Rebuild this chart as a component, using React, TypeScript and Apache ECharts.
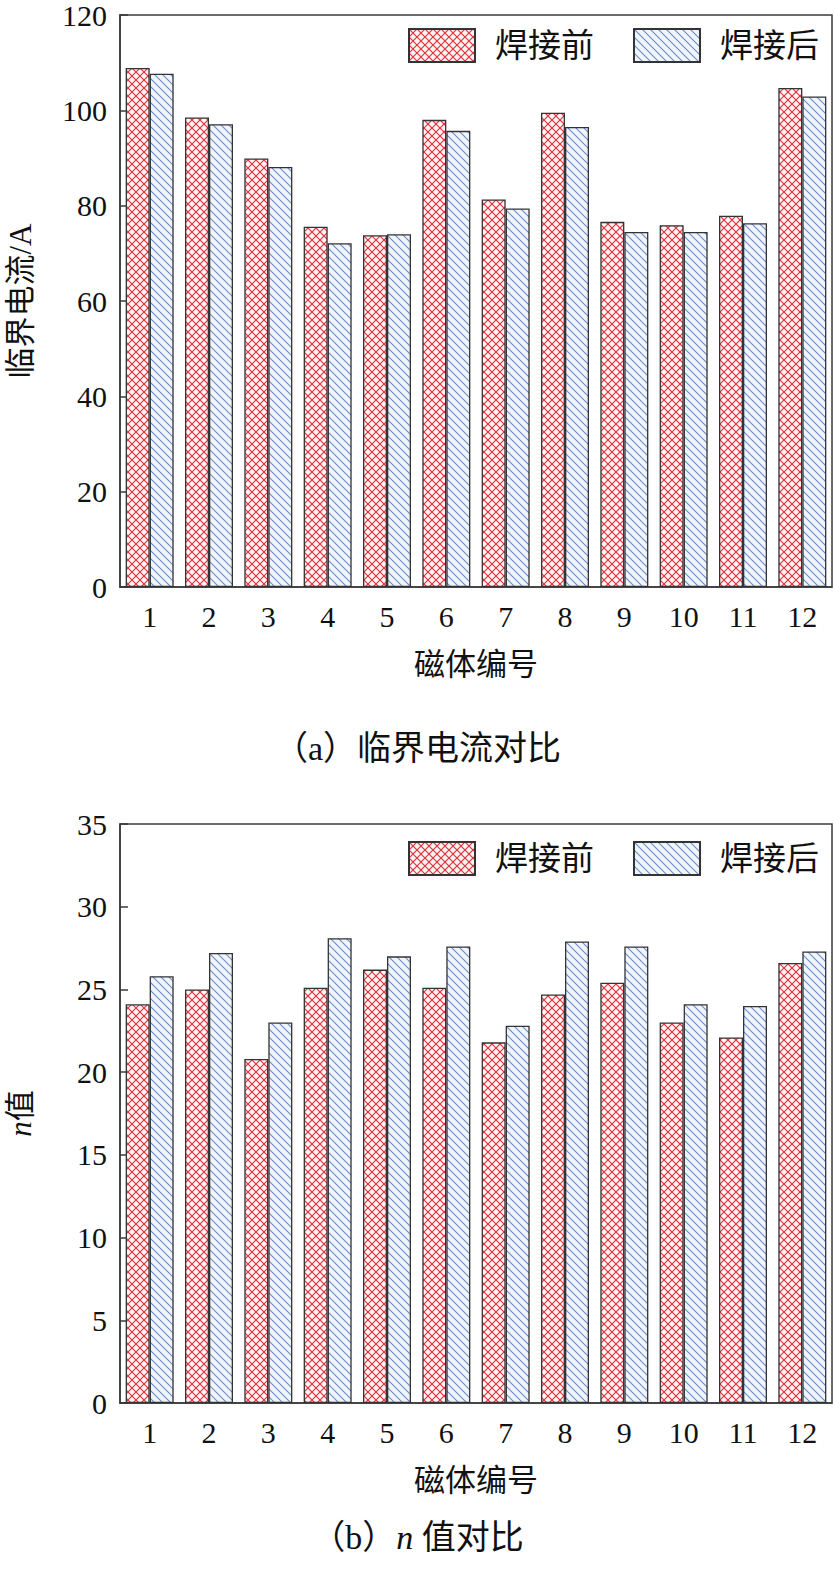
import React, { useEffect, useRef } from 'react';
import * as echarts from 'echarts';

// 磁体编号
const magnets = ['1', '2', '3', '4', '5', '6', '7', '8', '9', '10', '11', '12'];
const legendNames = ['焊接前', '焊接后'];
// 临界电流 / A
const currentBefore = [108.9, 98.5, 89.9, 75.6, 73.8, 98.0, 81.3, 99.5, 76.6, 75.9, 77.9, 104.7];
const currentAfter = [107.7, 97.1, 88.1, 72.1, 74.0, 95.7, 79.4, 96.5, 74.5, 74.5, 76.3, 102.9];
// n 值
const nBefore = [24.1, 25.0, 20.8, 25.1, 26.2, 25.1, 21.8, 24.7, 25.4, 23.0, 22.1, 26.6];
const nAfter = [25.8, 27.2, 23.0, 28.1, 27.0, 27.6, 22.8, 27.9, 27.6, 24.1, 24.0, 27.3];

const FONT = '"Liberation Serif", "Noto Sans CJK SC", serif';
const AXIS_COLOR = '#3a3a3a';

// 画阴影填充
function makeHatch(size: number, bg: string, line: string, width: number, cross: boolean) {
  const c = document.createElement('canvas');
  c.width = size;
  c.height = size;
  const ctx = c.getContext('2d')!;
  ctx.fillStyle = bg;
  ctx.fillRect(0, 0, size, size);
  ctx.strokeStyle = line;
  ctx.lineWidth = width;
  for (const k of [-1, 0, 1]) {
    ctx.beginPath();
    ctx.moveTo(-1, k * size - 1);
    ctx.lineTo(size + 1, size + k * size + 1);
    ctx.stroke();
    if (cross) {
      ctx.beginPath();
      ctx.moveTo(-1, size + k * size + 1);
      ctx.lineTo(size + 1, k * size - 1);
      ctx.stroke();
    }
  }
  return c;
}

export default function App() {
  const chartRef = useRef<HTMLDivElement>(null);

  useEffect(() => {
    if (!chartRef.current) return;
    document.body.style.margin = '0';
    const chart = echarts.init(chartRef.current, null, { renderer: 'svg' });

    const pinkFill = { image: makeHatch(8, '#fff4f5', '#e0343f', 1.2, true), repeat: 'repeat' };
    const blueFill = { image: makeHatch(8, '#f0f5fb', '#6a8bc6', 1.1, false), repeat: 'repeat' };

    const styleBefore = { color: pinkFill, borderColor: '#333', borderWidth: 1.3 };
    const styleAfter = { color: blueFill, borderColor: '#333', borderWidth: 1.3 };

    const grids = [
      { left: 120, right: 3, top: 15, height: 572 },
      { left: 120, right: 3, top: 824, height: 579 }
    ];

    const xAxisBase = {
      type: 'category',
      data: magnets,
      name: '磁体编号',
      nameLocation: 'middle',
      nameGap: 62,
      nameMoveOverlap: false,
      nameTextStyle: { fontFamily: FONT, fontSize: 31, color: '#111' },
      axisLine: { show: true, lineStyle: { color: AXIS_COLOR, width: 1.5 } },
      axisTick: { show: false },
      axisLabel: { fontFamily: FONT, fontSize: 30, color: '#111', margin: 14 }
    };

    const yAxisBase = {
      type: 'value',
      min: 0,
      nameLocation: 'middle',
      nameGap: 84,
      nameMoveOverlap: false,
      nameTextStyle: { fontFamily: FONT, fontSize: 31, color: '#111' },
      axisLine: { show: true, lineStyle: { color: AXIS_COLOR, width: 1.5 } },
      axisTick: { show: true, inside: true, length: 8, lineStyle: { color: AXIS_COLOR, width: 1.5 } },
      axisLabel: { fontFamily: FONT, fontSize: 30, color: '#111', margin: 13 },
      splitLine: { show: false }
    };

    const legendBase = {
      data: legendNames,
      right: 16,
      orient: 'horizontal',
      padding: 0,
      itemWidth: 66,
      itemHeight: 33,
      itemGap: 39,
      icon: 'rect',
      textStyle: { fontFamily: FONT, fontSize: 33, color: '#111', padding: [0, 0, 0, 15] }
    };

    const barBase = { type: 'bar', barWidth: 24, barGap: '0%' };

    const option = {
      animation: false,
      backgroundColor: '#fff',
      title: [
        {
          text: '（a）临界电流对比',
          left: 'center',
          top: 726,
          textStyle: { fontFamily: FONT, fontSize: 34, fontWeight: 'normal', color: '#111' }
        },
        {
          text: '（b）{i|n} 值对比',
          left: 'center',
          top: 1515,
          textStyle: {
            fontFamily: FONT,
            fontSize: 34,
            fontWeight: 'normal',
            color: '#111',
            rich: { i: { fontFamily: FONT, fontSize: 34, fontStyle: 'italic', color: '#111' } }
          }
        }
      ],
      legend: [
        { ...legendBase, top: 28 },
        { ...legendBase, top: 841 }
      ],
      grid: grids.map(g => ({
        ...g,
        containLabel: false,
        outerBoundsMode: 'none',
        show: true,
        borderColor: AXIS_COLOR,
        borderWidth: 1.5
      })),
      xAxis: [
        { ...xAxisBase, gridIndex: 0 },
        { ...xAxisBase, gridIndex: 1 }
      ],
      yAxis: [
        { ...yAxisBase, gridIndex: 0, max: 120, interval: 20, name: '临界电流/A' },
        {
          ...yAxisBase,
          gridIndex: 1,
          max: 35,
          interval: 5,
          name: '{i|n}值',
          nameTextStyle: {
            ...yAxisBase.nameTextStyle,
            rich: { i: { fontFamily: FONT, fontSize: 31, fontStyle: 'italic', color: '#111' } }
          }
        }
      ],
      series: [
        { ...barBase, name: legendNames[0], xAxisIndex: 0, yAxisIndex: 0, data: currentBefore, itemStyle: styleBefore },
        { ...barBase, name: legendNames[1], xAxisIndex: 0, yAxisIndex: 0, data: currentAfter, itemStyle: styleAfter },
        { ...barBase, name: legendNames[0], xAxisIndex: 1, yAxisIndex: 1, data: nBefore, itemStyle: styleBefore },
        { ...barBase, name: legendNames[1], xAxisIndex: 1, yAxisIndex: 1, data: nAfter, itemStyle: styleAfter }
      ]
    };

    chart.setOption(option as any);
    return () => {
      chart.dispose();
    };
  }, []);

  return <div ref={chartRef} style={{ width: 835, height: 1580 }} />;
}
